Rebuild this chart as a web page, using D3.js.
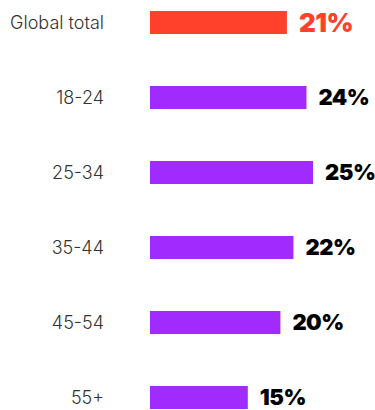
<!DOCTYPE html>
<html>
<head>
<meta charset="utf-8">
<script src="https://cdn.jsdelivr.net/npm/d3@7"></script>
<style>
  html, body { margin: 0; padding: 0; background: #fff; }
  svg { display: block; }
</style>
</head>
<body>
<svg id="chart" width="375" height="410"></svg>
<script>
// Share by age group, with the global total on top
const categories = ["Global total", "18-24", "25-34", "35-44", "45-54", "55+"];
const values = [21, 24, 25, 22, 20, 15];
const highlight = ["Global total"];

const width = 375, height = 410;
const svg = d3.select("#chart");

const x = d3.scaleLinear().domain([0, 25]).range([150, 313]);
const y = d3.scaleBand()
  .domain(categories)
  .range([11, 409])
  .paddingInner(52 / 75)
  .paddingOuter(0);

const data = categories.map((c, i) => ({ cat: c, value: values[i], hi: highlight.includes(c) }));

const red = "#ff412c", purple = "#a12bff";

svg.selectAll("rect.bar")
  .data(data)
  .join("rect")
  .attr("class", "bar")
  .attr("x", x(0))
  .attr("y", d => y(d.cat))
  .attr("width", d => x(d.value) - x(0))
  .attr("height", y.bandwidth())
  .attr("fill", d => d.hi ? red : purple);

// Category labels
svg.selectAll("text.cat")
  .data(data)
  .join("text")
  .attr("class", "cat")
  .attr("x", 104)
  .attr("y", d => y(d.cat) + y.bandwidth() / 2)
  .attr("dy", "0.35em")
  .attr("text-anchor", "end")
  .attr("font-family", "Inter, 'Noto Sans', sans-serif")
  .attr("font-weight", 300)
  .attr("font-size", 18)
  .attr("fill", "#333")
  .text(d => d.cat);

// Value labels
svg.selectAll("text.val")
  .data(data)
  .join("text")
  .attr("class", "val")
  .attr("x", d => x(d.value) + 12)
  .attr("y", d => y(d.cat) + y.bandwidth() / 2)
  .attr("dy", "0.36em")
  .attr("font-family", "Inter, 'Noto Sans', sans-serif")
  .attr("font-weight", 900)
  .attr("font-size", d => d.hi ? 26 : 22)
  .attr("letter-spacing", "-0.5")
  .attr("fill", d => d.hi ? red : "#000")
  .text(d => d.value + "%");
</script>
</body>
</html>
